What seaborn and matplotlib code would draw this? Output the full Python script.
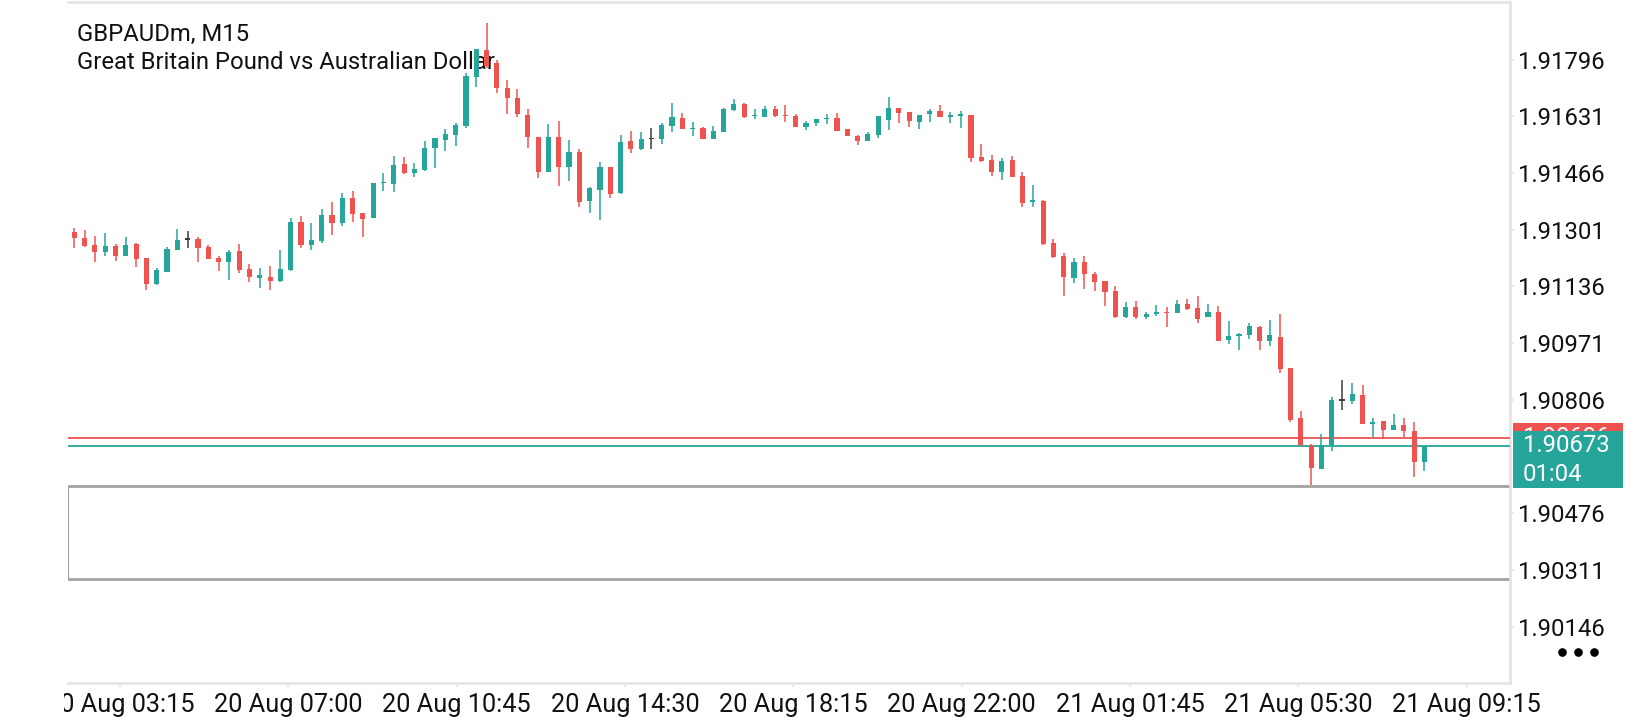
import numpy as np
import pandas as pd
import seaborn as sns
import matplotlib
matplotlib.use("Agg")
import matplotlib.pyplot as plt
from matplotlib.patches import Rectangle
from matplotlib.lines import Line2D
import matplotlib.transforms as mtransforms

# ---------------- data ----------------
symbol = "GBPAUDm, M15"
description = "Great Britain Pound vs Australian Dollar"

opens = [
    1.91295, 1.91277, 1.91257, 1.91235, 1.91254, 1.91226, 1.91260, 1.91219, 1.91142, 1.91179,
    1.91243, 1.91274, 1.91275, 1.91251, 1.91219, 1.91206, 1.91240, 1.91187, 1.91162, 1.91164,
    1.91153, 1.91184, 1.91323, 1.91257, 1.91269, 1.91344, 1.91322, 1.91395, 1.91351, 1.91335,
    1.91437, 1.91435, 1.91493, 1.91467, 1.91475, 1.91538, 1.91563, 1.91577, 1.91603, 1.91745,
    1.91824, 1.91787, 1.91713, 1.91685, 1.91635, 1.91570, 1.91470, 1.91570, 1.91485, 1.91526,
    1.91386, 1.91417, 1.91483, 1.91408, 1.91560, 1.91536, 1.91566, 1.91566, 1.91604, 1.91626,
    1.91595, 1.91597, 1.91565, 1.91587, 1.91650, 1.91667, 1.91632, 1.91630, 1.91653, 1.91635,
    1.91632, 1.91601, 1.91611, 1.91623, 1.91627, 1.91595, 1.91574, 1.91558, 1.91577, 1.91621,
    1.91655, 1.91643, 1.91616, 1.91637, 1.91647, 1.91631, 1.91634, 1.91635, 1.91512, 1.91504,
    1.91470, 1.91504, 1.91458, 1.91381, 1.91386, 1.91262, 1.91226, 1.91162, 1.91206, 1.91173,
    1.91152, 1.91123, 1.91048, 1.91076, 1.91046, 1.91055, 1.91061, 1.91060, 1.91085, 1.91073,
    1.91046, 1.91061, 1.90981, 1.90993, 1.90995, 1.91018, 1.90976, 1.90988, 1.90898, 1.90754,
    1.90675, 1.90605, 1.90675, 1.90806, 1.90803, 1.90821, 1.90735, 1.90745, 1.90719, 1.90733,
    1.90714, 1.90624,
]
highs = [
    1.91307, 1.91301, 1.91283, 1.91293, 1.91260, 1.91280, 1.91264, 1.91219, 1.91190, 1.91252,
    1.91304, 1.91298, 1.91280, 1.91257, 1.91226, 1.91243, 1.91260, 1.91202, 1.91190, 1.91196,
    1.91243, 1.91335, 1.91341, 1.91320, 1.91361, 1.91381, 1.91408, 1.91414, 1.91351, 1.91437,
    1.91466, 1.91516, 1.91512, 1.91495, 1.91560, 1.91568, 1.91594, 1.91613, 1.91756, 1.91827,
    1.91902, 1.91795, 1.91737, 1.91710, 1.91652, 1.91572, 1.91608, 1.91618, 1.91563, 1.91536,
    1.91427, 1.91497, 1.91483, 1.91577, 1.91589, 1.91585, 1.91597, 1.91613, 1.91669, 1.91640,
    1.91614, 1.91600, 1.91603, 1.91655, 1.91682, 1.91669, 1.91653, 1.91662, 1.91662, 1.91664,
    1.91638, 1.91618, 1.91624, 1.91638, 1.91640, 1.91595, 1.91577, 1.91585, 1.91632, 1.91687,
    1.91655, 1.91643, 1.91635, 1.91652, 1.91664, 1.91643, 1.91647, 1.91635, 1.91551, 1.91519,
    1.91509, 1.91516, 1.91470, 1.91432, 1.91388, 1.91274, 1.91233, 1.91218, 1.91225, 1.91179,
    1.91152, 1.91138, 1.91090, 1.91094, 1.91061, 1.91082, 1.91076, 1.91097, 1.91100, 1.91107,
    1.91085, 1.91080, 1.91036, 1.91000, 1.91031, 1.91021, 1.91039, 1.91056, 1.90898, 1.90774,
    1.90677, 1.90707, 1.90813, 1.90864, 1.90856, 1.90850, 1.90753, 1.90745, 1.90765, 1.90753,
    1.90743, 1.90673,
]
lows = [
    1.91249, 1.91252, 1.91206, 1.91226, 1.91211, 1.91226, 1.91194, 1.91126, 1.91140, 1.91179,
    1.91243, 1.91249, 1.91208, 1.91216, 1.91182, 1.91155, 1.91176, 1.91150, 1.91133, 1.91126,
    1.91149, 1.91181, 1.91247, 1.91243, 1.91262, 1.91286, 1.91313, 1.91325, 1.91281, 1.91335,
    1.91415, 1.91412, 1.91464, 1.91456, 1.91473, 1.91482, 1.91529, 1.91546, 1.91598, 1.91718,
    1.91773, 1.91700, 1.91637, 1.91629, 1.91540, 1.91453, 1.91470, 1.91429, 1.91444, 1.91366,
    1.91349, 1.91330, 1.91393, 1.91405, 1.91524, 1.91534, 1.91536, 1.91550, 1.91587, 1.91595,
    1.91575, 1.91565, 1.91565, 1.91587, 1.91648, 1.91626, 1.91623, 1.91630, 1.91629, 1.91616,
    1.91601, 1.91592, 1.91604, 1.91609, 1.91589, 1.91575, 1.91548, 1.91558, 1.91569, 1.91592,
    1.91613, 1.91601, 1.91595, 1.91616, 1.91630, 1.91613, 1.91598, 1.91497, 1.91499, 1.91458,
    1.91446, 1.91454, 1.91368, 1.91368, 1.91257, 1.91220, 1.91109, 1.91147, 1.91129, 1.91123,
    1.91080, 1.91044, 1.91044, 1.91041, 1.91041, 1.91050, 1.91019, 1.91060, 1.91068, 1.91031,
    1.91046, 1.90976, 1.90969, 1.90952, 1.90984, 1.90950, 1.90964, 1.90885, 1.90743, 1.90673,
    1.90559, 1.90605, 1.90658, 1.90777, 1.90793, 1.90735, 1.90697, 1.90692, 1.90719, 1.90697,
    1.90583, 1.90600,
]
closes = [
    1.91278, 1.91255, 1.91235, 1.91254, 1.91226, 1.91257, 1.91217, 1.91142, 1.91184, 1.91245,
    1.91272, 1.91274, 1.91249, 1.91216, 1.91206, 1.91235, 1.91184, 1.91164, 1.91170, 1.91153,
    1.91187, 1.91323, 1.91257, 1.91272, 1.91344, 1.91322, 1.91395, 1.91347, 1.91333, 1.91437,
    1.91441, 1.91490, 1.91467, 1.91478, 1.91538, 1.91568, 1.91580, 1.91606, 1.91749, 1.91827,
    1.91779, 1.91713, 1.91685, 1.91637, 1.91572, 1.91470, 1.91570, 1.91485, 1.91526, 1.91383,
    1.91422, 1.91483, 1.91405, 1.91556, 1.91536, 1.91566, 1.91566, 1.91606, 1.91629, 1.91595,
    1.91598, 1.91565, 1.91589, 1.91653, 1.91667, 1.91630, 1.91635, 1.91653, 1.91633, 1.91632,
    1.91601, 1.91613, 1.91624, 1.91626, 1.91589, 1.91575, 1.91560, 1.91580, 1.91632, 1.91655,
    1.91642, 1.91618, 1.91635, 1.91647, 1.91630, 1.91634, 1.91637, 1.91511, 1.91502, 1.91470,
    1.91501, 1.91456, 1.91380, 1.91388, 1.91260, 1.91223, 1.91165, 1.91207, 1.91172, 1.91150,
    1.91121, 1.91048, 1.91076, 1.91046, 1.91055, 1.91061, 1.91058, 1.91085, 1.91071, 1.91042,
    1.91061, 1.90978, 1.90992, 1.90998, 1.91021, 1.90976, 1.90995, 1.90896, 1.90748, 1.90675,
    1.90609, 1.90675, 1.90806, 1.90806, 1.90823, 1.90735, 1.90743, 1.90719, 1.90733, 1.90714,
    1.90624, 1.90673,
]

time_labels = ["20 Aug 03:15", "20 Aug 07:00", "20 Aug 10:45", "20 Aug 14:30",
               "20 Aug 18:15", "20 Aug 22:00", "21 Aug 01:45", "21 Aug 05:30",
               "21 Aug 09:15"]
price_ticks = [1.90146, 1.90311, 1.90476, 1.90806, 1.90971,
               1.91136, 1.91301, 1.91466, 1.91631, 1.91796]
bid_price = 1.90673
ask_price = 1.90696
countdown = "01:04"
zone_top = 1.90556
zone_bottom = 1.90284

# ---------------- style ----------------
sns.set_theme(style="white")
plt.rcParams["font.family"] = ["Roboto", "DejaVu Sans"]

UP = "#26a69a"
DOWN = "#ef5350"
FLAT = "#3c3c3c"
FRAME = "#e3e3e3"
ZONE = "#a3a3a3"

W, H, DPI = 1640, 720, 100
fig = plt.figure(figsize=(W / DPI, H / DPI), dpi=DPI, facecolor="white")
ax_left, ax_right, ax_top, ax_bot = 68, 1510, 2, 683
ax = fig.add_axes([ax_left / W, 1 - ax_bot / H, (ax_right - ax_left) / W, (ax_bot - ax_top) / H])
ax.set_facecolor("white")

df = pd.DataFrame({"open": opens, "high": highs, "low": lows, "close": closes})
df["idx"] = np.arange(len(df))
df["color"] = np.where(df["close"] > df["open"], UP,
                       np.where(df["close"] < df["open"], DOWN, FLAT))

# wicks
ax.vlines(df["idx"], df["low"], df["high"], colors=df["color"], linewidth=1.1, zorder=3)
# bodies
min_h = 0.00004
raw_h = (df["close"] - df["open"]).abs()
body_h = np.maximum(raw_h, min_h)
body_bot = np.minimum(df["open"], df["close"]) - (body_h - raw_h) / 2
ax.bar(df["idx"], body_h, bottom=body_bot, width=0.5, color=df["color"],
       linewidth=0, zorder=4)

# grey zone rectangle
ax.axhspan(zone_bottom, zone_top, facecolor="white", edgecolor=ZONE, linewidth=0.8, zorder=1)
ax.axhline(zone_top, color=ZONE, linewidth=2.0, zorder=2)
ax.axhline(zone_bottom, color=ZONE, linewidth=2.0, zorder=2)

# bid / ask lines
ax.axhline(ask_price, color=DOWN, linewidth=1.3, zorder=2.6)
ax.axhline(bid_price, color=UP, linewidth=1.3, zorder=2.7)

ax.set_xlim(-0.61, 139.3)
ax.set_ylim(1.89982, 1.91964)

# axes frame
for side in ["top", "right", "bottom"]:
    ax.spines[side].set_color(FRAME)
    ax.spines[side].set_linewidth(1.8)
ax.spines["left"].set_visible(False)

# ticks
tick_pos = 4.44 + 16.33 * np.arange(len(time_labels))
ax.set_xticks(tick_pos)
ax.set_xticklabels(time_labels)
ax.yaxis.tick_right()
ax.set_yticks(price_ticks)
ax.set_yticklabels([f"{p:.5f}" for p in price_ticks])
ax.tick_params(axis="x", which="both", bottom=True, direction="out", length=3,
               width=1.2, color=FRAME, labelsize=18.2, labelcolor="#111111", pad=4)
ax.tick_params(axis="y", which="both", right=True, left=False, direction="out", length=3,
               width=1.2, color=FRAME, labelsize=17.2, labelcolor="#111111", pad=2.5)
ax.grid(False)

# price tags on the right axis
blend = mtransforms.blended_transform_factory(fig.transFigure, ax.transData)
tag_x0 = (ax_right + 3) / W
tag_w = 110 / W
ax.add_patch(Rectangle((tag_x0, ask_price - 0.00043), tag_w, 0.00086, transform=blend,
                       facecolor=DOWN, edgecolor="none", clip_on=False, zorder=6))
ax.text(tag_x0 + 10 / W, ask_price, f"{ask_price:.5f}", transform=blend, color="white",
        fontsize=17.2, va="center", ha="left", clip_on=False, zorder=7)
ax.add_patch(Rectangle((tag_x0, bid_price - 0.00123), tag_w, 0.00166, transform=blend,
                       facecolor=UP, edgecolor="none", clip_on=False, zorder=8))
ax.text(tag_x0 + 10 / W, bid_price, f"{bid_price:.5f}", transform=blend, color="white",
        fontsize=17.2, va="center", ha="left", clip_on=False, zorder=9)
ax.text(tag_x0 + 10 / W, bid_price - 0.00083, countdown, transform=blend, color="white",
        fontsize=17.2, va="center", ha="left", clip_on=False, zorder=9)

# header text (drawn beneath candles)
ax.text(77 / W, 1 - 34 / H, symbol, transform=fig.transFigure, fontsize=17.2,
        color="#111111", va="center", ha="left", zorder=2)
ax.text(77 / W, 1 - 62.5 / H, description, transform=fig.transFigure, fontsize=17.2,
        color="#111111", va="center", ha="left", zorder=2)

# mask the clipped area on the far left
fig.add_artist(Rectangle((0, 0), 64 / W, 1, transform=fig.transFigure,
                         facecolor="white", edgecolor="none", zorder=20))

# menu dots
fig.add_artist(Line2D([1562 / W, 1578 / W, 1594 / W], [1 - 652 / H] * 3,
                      transform=fig.transFigure, linestyle="none", marker="o",
                      markersize=5.2, color="black", zorder=21))

fig.savefig("out.png", dpi=DPI, facecolor="white")
